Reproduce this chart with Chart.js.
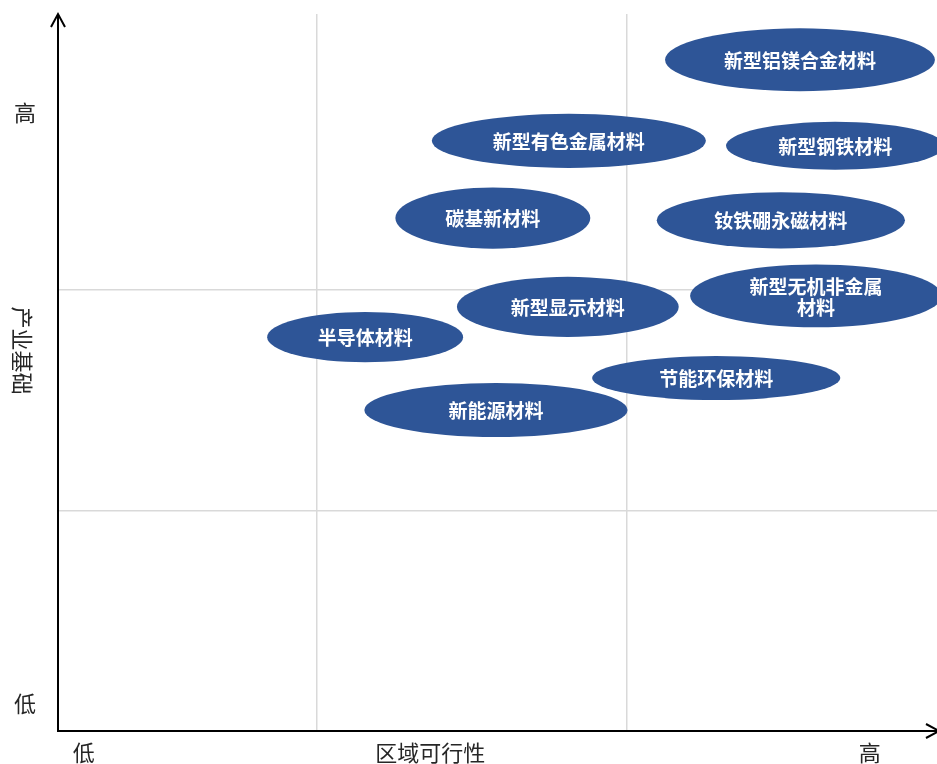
<!DOCTYPE html>
<html>
<head>
<meta charset="utf-8">
<script src="https://cdn.jsdelivr.net/npm/chart.js@4/dist/chart.umd.min.js"></script>
<style>
  html, body { margin: 0; padding: 0; background: #ffffff; }
  #wrap { width: 937px; height: 764px; }
</style>
</head>
<body>
<div id="wrap"><canvas id="c" width="937" height="764"></canvas></div>
<script>
// ---- data ----
const materials = ['新型铝镁合金材料', '新型有色金属材料', '新型钢铁材料', '碳基新材料', '钕铁硼永磁材料',
                   '新型无机非金属\n材料', '新型显示材料', '半导体材料', '节能环保材料', '新能源材料'];
const feasibility = [14.35, 9.88, 15.03, 8.41, 13.98, 14.66, 9.86, 5.94, 12.73, 8.47];   // x: 区域可行性
const foundation  = [12.17, 10.70, 10.61, 9.30, 9.26, 7.89, 7.69, 7.14, 6.40, 5.82];      // y: 产业基础
const spreadX = [5.22, 5.30, 4.22, 3.77, 4.80, 4.87, 4.29, 3.79, 4.80, 5.09];
const spreadY = [1.14, 0.98, 0.87, 1.11, 1.02, 1.14, 1.09, 0.91, 0.80, 0.98];
const xGridValues = [5, 11];
const yGridValues = [4, 8];
const xAxisTitle = '区域可行性';
const yAxisTitle = '产业基础';
const lowLabel = '低';
const highLabel = '高';

const points = feasibility.map((v, i) => ({ x: v, y: foundation[i] }));

const FILL = '#2E5597';
const TEXT_FONT = 'bold 19px "Microsoft YaHei", "Noto Sans CJK SC", sans-serif';
const AXIS_FONT = '22px "Microsoft YaHei", "Noto Sans CJK SC", sans-serif';

const ellipsePlugin = {
  id: 'ellipses',
  afterDatasetsDraw(chart) {
    const ctx = chart.ctx;
    const xs = chart.scales.x, ys = chart.scales.y;
    const meta = chart.getDatasetMeta(0);
    meta.data.forEach((el, i) => {
      const cx = el.x, cy = el.y;
      const rx = Math.abs(xs.getPixelForValue(feasibility[i] + spreadX[i] / 2) - cx);
      const ry = Math.abs(ys.getPixelForValue(foundation[i] + spreadY[i] / 2) - cy);
      ctx.save();
      ctx.beginPath();
      ctx.ellipse(cx, cy, rx, ry, 0, 0, Math.PI * 2);
      ctx.fillStyle = FILL;
      ctx.fill();
      ctx.fillStyle = '#ffffff';
      ctx.font = TEXT_FONT;
      ctx.textAlign = 'center';
      ctx.textBaseline = 'middle';
      const lines = materials[i].split('\n');
      const lh = 21;
      lines.forEach((ln, k) => {
        ctx.fillText(ln, cx, cy + (k - (lines.length - 1) / 2) * lh + 1);
      });
      ctx.restore();
    });
  }
};

const axesPlugin = {
  id: 'axesArrows',
  afterDraw(chart) {
    const ctx = chart.ctx;
    const a = chart.chartArea;
    const xs = chart.scales.x, ys = chart.scales.y;
    ctx.save();
    ctx.strokeStyle = '#000000';
    ctx.lineWidth = 2;
    ctx.lineCap = 'butt';
    // y axis
    ctx.beginPath();
    ctx.moveTo(a.left, a.bottom + 1);
    ctx.lineTo(a.left, a.top);
    ctx.stroke();
    ctx.beginPath();
    ctx.moveTo(a.left - 7, a.top + 13);
    ctx.lineTo(a.left, a.top);
    ctx.lineTo(a.left + 7, a.top + 13);
    ctx.stroke();
    // x axis
    ctx.beginPath();
    ctx.moveTo(a.left - 1, a.bottom);
    ctx.lineTo(a.right + 2, a.bottom);
    ctx.stroke();
    ctx.beginPath();
    ctx.moveTo(a.right - 11, a.bottom - 7);
    ctx.lineTo(a.right + 2, a.bottom);
    ctx.lineTo(a.right - 11, a.bottom + 7);
    ctx.stroke();

    // axis texts
    ctx.fillStyle = '#262626';
    ctx.font = AXIS_FONT;
    ctx.textAlign = 'center';
    ctx.textBaseline = 'middle';
    const labelY = a.bottom + 22;
    ctx.fillText(lowLabel, xs.getPixelForValue(0.5), labelY);
    ctx.fillText(xAxisTitle, xs.getPixelForValue(7.2), labelY);
    ctx.fillText(highLabel, xs.getPixelForValue(15.7), labelY);
    const labelX = a.left - 33;
    ctx.fillText(highLabel, labelX, ys.getPixelForValue(11.22));
    ctx.fillText(lowLabel, labelX, ys.getPixelForValue(0.5));
    ctx.save();
    ctx.translate(labelX - 3, ys.getPixelForValue(6.9));
    ctx.rotate(Math.PI / 2);
    ctx.fillText(yAxisTitle, 0, 0);
    ctx.restore();
    ctx.restore();
  }
};

new Chart(document.getElementById('c'), {
  type: 'scatter',
  data: {
    datasets: [{
      label: '材料',
      data: points,
      pointRadius: 0,
      pointHoverRadius: 0,
      backgroundColor: FILL
    }]
  },
  options: {
    responsive: false,
    animation: false,
    devicePixelRatio: 1,
    layout: { padding: { left: 58, right: 0, top: 14, bottom: 33 } },
    plugins: { legend: { display: false }, tooltip: { enabled: false } },
    scales: {
      x: {
        type: 'linear', min: 0, max: 17,
        afterBuildTicks: (s) => { s.ticks = xGridValues.map(v => ({ value: v })); },
        ticks: { display: false },
        border: { display: false },
        grid: { drawTicks: false, color: '#d9d9d9', lineWidth: 1.5 }
      },
      y: {
        type: 'linear', min: 0, max: 13,
        afterBuildTicks: (s) => { s.ticks = yGridValues.map(v => ({ value: v })); },
        ticks: { display: false },
        border: { display: false },
        grid: { drawTicks: false, color: '#d9d9d9', lineWidth: 1.5 }
      }
    }
  },
  plugins: [ellipsePlugin, axesPlugin]
});
</script>
</body>
</html>
